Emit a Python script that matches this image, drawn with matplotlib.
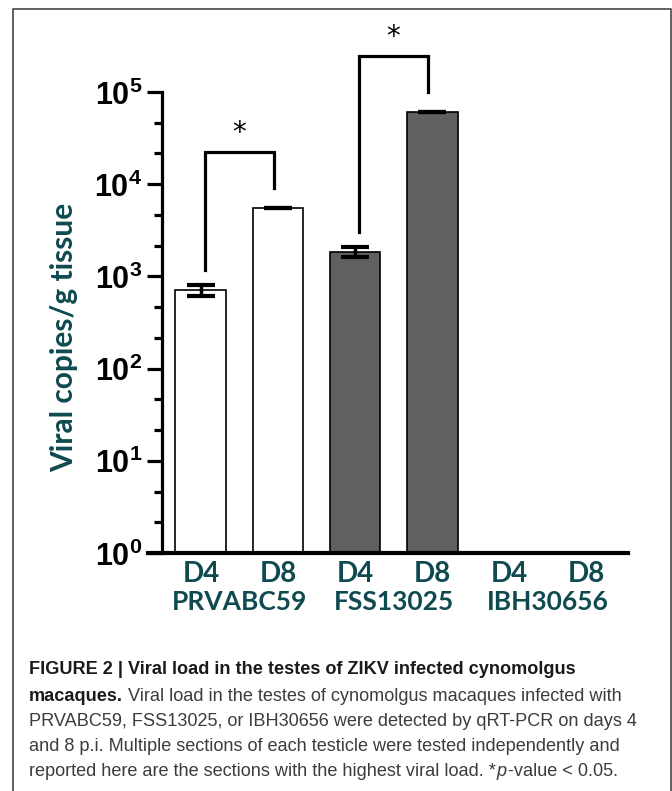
import numpy as np
import matplotlib
matplotlib.use("Agg")
import matplotlib.pyplot as plt
from matplotlib.lines import Line2D
from matplotlib.ticker import FixedLocator, FuncFormatter, NullFormatter

# ==========================
# DATA
# ==========================

days = ["D4", "D8", "D4", "D8", "D4", "D8"]
strains = ["PRVABC59", "FSS13025", "IBH30656"]
viral_load = [705, 5520, 1850, 60700, 0, 0]
viral_err = [95, 60, 220, 700, 0, 0]
bar_colors = ["white", "white", "#606060", "#606060", "white", "white"]
# significant pairs (bar index left, bar index right)
sig_pairs = [(0, 1), (2, 3)]

caption_lines = [
    [("FIGURE 2 | Viral load in the testes of ZIKV infected cynomolgus", "bold")],
    [("macaques.", "bold"),
     ("Viral load in the testes of cynomolgus macaques infected with", "normal")],
    [("PRVABC59, FSS13025, or IBH30656 were detected by qRT-PCR on days 4", "normal")],
    [("and 8 p.i. Multiple sections of each testicle were tested independently and", "normal")],
    [("reported here are the sections with the highest viral load. *", "normal"),
     ("p", "italic"),
     ("-value < 0.05.", "normal")],
]

TEAL = "#0e4a50"
W, H = 672, 791

plt.rcParams["mathtext.fontset"] = "custom"
plt.rcParams["mathtext.rm"] = "Liberation Sans"
plt.rcParams["mathtext.bf"] = "Liberation Sans:bold"

fig = plt.figure(figsize=(W / 100, H / 100), dpi=100)
fig.patch.set_facecolor("white")

# ==========================
# AXES
# ==========================

ax = fig.add_axes([148 / W, (H - 553) / H, 480 / W, 461 / H])

x = np.arange(len(days))
vals = np.array(viral_load, dtype=float)
errs = np.array(viral_err, dtype=float)
has = vals > 0

ax.set_yscale("log")
ax.bar(x[has], vals[has], width=0.662, color=np.array(bar_colors)[has],
       edgecolor="black", linewidth=1.2, zorder=2)
ax.errorbar(x[has], vals[has], yerr=errs[has], fmt="none", ecolor="black",
            elinewidth=2.5, capsize=10, capthick=3, zorder=3)

ax.set_ylim(1, 1e5)
ax.set_xlim(-0.688, 5.545)

ax.spines["top"].set_visible(False)
ax.spines["right"].set_visible(False)
ax.spines["left"].set_position(("data", -0.506))
ax.spines["left"].set_linewidth(2.3)
ax.spines["bottom"].set_linewidth(3)

ax.yaxis.set_major_locator(FixedLocator([10.0 ** k for k in range(6)]))
ax.yaxis.set_minor_locator(FixedLocator(
    [10.0 ** (k + f) for k in range(5) for f in (1 / 3, 2 / 3)]))
ax.yaxis.set_major_formatter(FuncFormatter(
    lambda v, p: r"$\mathbf{10^{%d}}$" % round(np.log10(v))))
ax.yaxis.set_minor_formatter(NullFormatter())
ax.tick_params(axis="y", which="major", length=11, width=2.3, pad=3,
               labelsize=22)
ax.tick_params(axis="y", which="minor", length=6, width=2.3)

ax.set_xticks(x)
ax.set_xticklabels(days, fontfamily="Lato", fontweight="bold",
                   fontsize=20, color=TEAL)
ax.tick_params(axis="x", length=0, pad=6)

# strain labels under each pair
for i, s in enumerate(strains):
    ax.annotate(s, xy=(2 * i + 0.5, 0), xycoords=("data", "axes fraction"),
                xytext=(0, -27), textcoords="offset points",
                ha="center", va="top", fontfamily="Lato",
                fontweight="bold", fontsize=19, color=TEAL,
                annotation_clip=False)

# significance brackets
for a, b in sig_pairs:
    left_y = (vals[a] + errs[a]) * 1.45
    right_y = vals[b] * 1.65
    top_y = vals[b] * 4.0
    ax.plot([a + 0.05, a + 0.05, b - 0.05, b - 0.05],
            [left_y, top_y, top_y, right_y],
            color="black", lw=2.3, clip_on=False, solid_joinstyle="miter")
    ax.annotate("*", xy=((a + b) / 2, top_y), xytext=(0, 14),
                textcoords="offset points", ha="center", va="center",
                fontsize=20, annotation_clip=False)

fig.text(64 / W, 1 - 337 / H, "Viral copies/g tissue", rotation=90,
         ha="center", va="center", fontfamily="Lato", fontweight="bold",
         fontsize=21.5, color=TEAL)

# ==========================
# FRAME AND CAPTION
# ==========================

fig.add_artist(Line2D([13 / W, 13 / W, 671 / W, 671 / W],
                      [-0.01, 1 - 9 / H, 1 - 9 / H, -0.01],
                      color="#555555", lw=1.3, transform=fig.transFigure))

renderer = fig.canvas.get_renderer()
baselines = [674, 701, 726, 751, 776]
gap = 5 / W
for line, yb in zip(caption_lines, baselines):
    cx = 29 / W
    for k, (txt, style) in enumerate(line):
        kw = dict(fontfamily="Liberation Sans", fontsize=13.1, va="baseline",
                  ha="left", color="#3c3c3c")
        if style == "bold":
            kw.update(fontweight="bold", color="#1a1a1a")
        if style == "italic":
            kw.update(fontstyle="italic")
        t = fig.text(cx, 1 - yb / H, txt, **kw)
        bb = t.get_window_extent(renderer)
        cx += bb.width / W
        if style == "bold" and k + 1 < len(line):
            cx += gap
        elif txt.endswith("*") or txt == "p":
            cx += 0.8 / W

fig.savefig("out.png", dpi=100)
